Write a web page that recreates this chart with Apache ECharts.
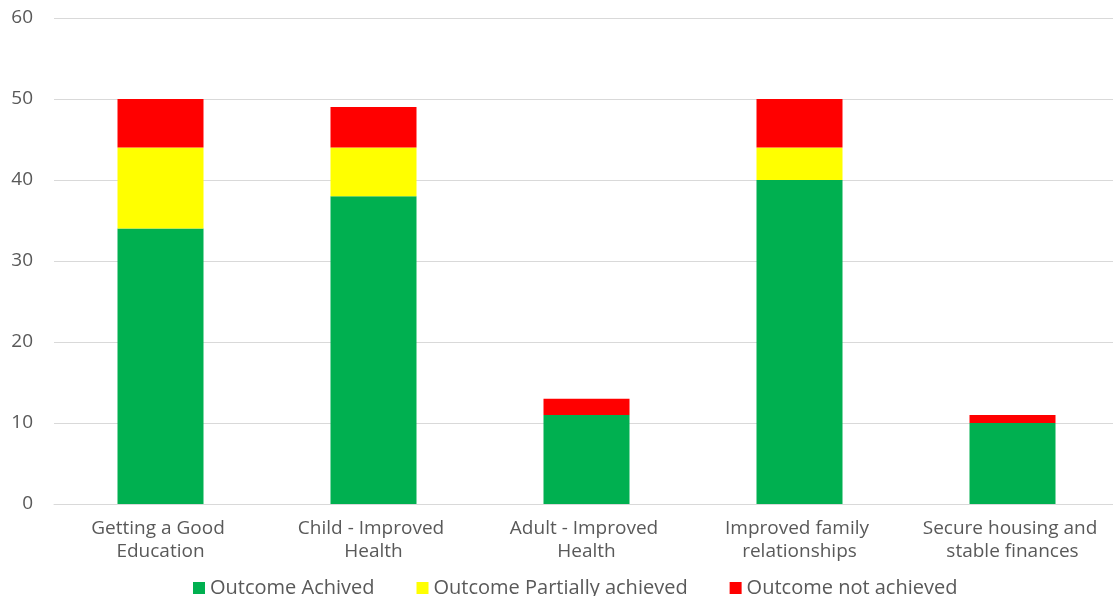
<!DOCTYPE html>
<html><head><meta charset="utf-8">
<script src="https://cdn.jsdelivr.net/npm/echarts@6/dist/echarts.min.js"></script>
<style>html,body{margin:0;padding:0;background:#fff}#c{width:1113px;height:596px}</style>
</head><body><div id="c"></div>
<script>
const categories = ["Getting a Good Education","Child - Improved Health","Adult - Improved Health","Improved family relationships","Secure housing and stable finances"];
const achieved = [34, 38, 11, 40, 10];
const partial = [10, 6, 0, 4, 0];
const notAchieved = [6, 5, 2, 6, 1];
const seriesNames = ["Outcome Achived","Outcome Partially achieved","Outcome not achieved"];
const yTicks = {min: 0, max: 60, interval: 10};

const font = "'Open Sans', 'Noto Sans', sans-serif";
const chart = echarts.init(document.getElementById('c'));
const mk = (name, data, color) => ({name, type:'bar', stack:'a', data, barWidth:86, itemStyle:{color}, emphasis:{disabled:true}});
chart.setOption({
  animation:false,
  textStyle:{fontFamily:font},
  grid:{left:54, width:1065, top:18, bottom:92, containLabel:false, outerBoundsMode:'none'},
  legend:{top:573, left:188, itemWidth:12, itemHeight:12, itemGap:42, icon:'rect',
    textStyle:{fontSize:20, color:'#595959', fontFamily:font},
    data:seriesNames},
  xAxis:{type:'category', data:categories,
    axisLine:{lineStyle:{color:'#d9d9d9'}}, axisTick:{show:false},
    axisLabel:{color:'#595959', fontSize:19, fontFamily:font, width:195, overflow:'break', lineHeight:23, margin:13, interval:0}},
  yAxis:{type:'value', min:yTicks.min, max:yTicks.max, interval:yTicks.interval,
    axisLine:{show:false}, axisTick:{show:false},
    splitLine:{lineStyle:{color:'#d9d9d9'}},
    axisLabel:{color:'#595959', fontSize:19, fontFamily:font, margin:21}},
  series:[mk(seriesNames[0], achieved, '#00B050'), mk(seriesNames[1], partial, '#FFFF00'), mk(seriesNames[2], notAchieved, '#FF0000')]
});
</script></body></html>
